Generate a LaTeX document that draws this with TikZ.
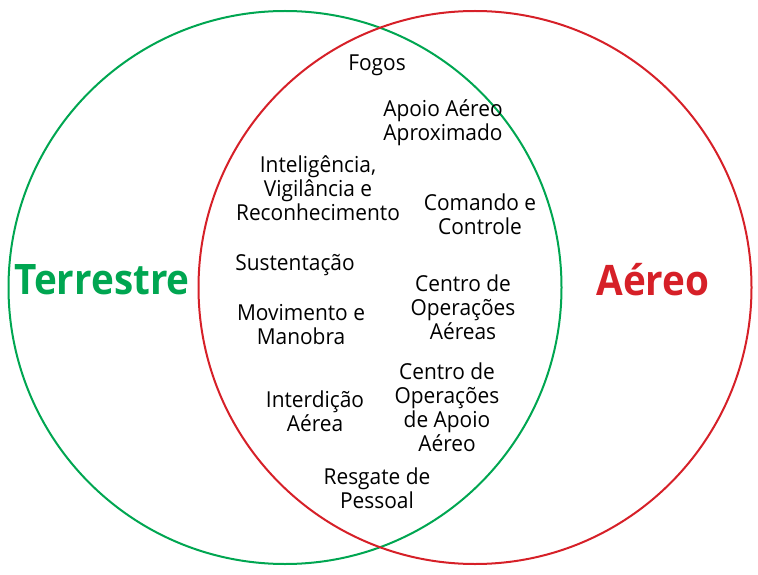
\documentclass[tikz,border=0pt]{standalone}
\usepackage{fontspec}
\setmainfont{Open Sans}
\newfontfamily\labelfont[FakeStretch=0.95]{Open Sans}
\newfontfamily\titlefont[FakeStretch=0.92]{Open Sans}
\definecolor{terragreen}{RGB}{0,166,81}
\definecolor{aerored}{RGB}{214,32,40}
\begin{document}
\begin{tikzpicture}[x=1pt,y=-1pt,
  item/.style={align=center,inner sep=0pt,yshift=-2.5pt,font=\labelfont\fontsize{22}{24}\selectfont},
  title/.style={inner sep=0pt,font=\titlefont\bfseries\fontsize{42}{48}\selectfont}]
\useasboundingbox (0,0) rectangle (758,575);
\node[circle,draw=terragreen,line width=2pt,minimum size=553pt,inner sep=0pt] (land) at (285,287.5) {};
\node[circle,draw=aerored,line width=2pt,minimum size=553pt,inner sep=0pt] (air) at (475,287.5) {};
\node[title,text=terragreen] (terr) at (102,280) {Terrestre};
\node[title,text=aerored] (aer) at (653,280) {Aéreo};
\node[item] (fog) at (377,63) {Fogos};
\node[item] (cas) at (443,120) {Apoio Aéreo\\Aproximado};
\node[item] (isr) at (318,186) {Inteligência,\\Vigilância e\\Reconhecimento};
\node[item] (c2) at (480,212) {Comando e\\Controle};
\node[item] (sus) at (295,263) {Sustentação};
\node[item] (coa) at (463,305) {Centro de\\Operações\\Aéreas};
\node[item] (mov) at (301,322) {Movimento e\\Manobra};
\node[item] (coaa) at (447,405) {Centro de\\Operações\\de Apoio\\Aéreo};
\node[item] (int) at (315,409) {Interdição\\Aérea};
\node[item] (res) at (377,486) {Resgate de\\Pessoal};
\end{tikzpicture}
\end{document}
